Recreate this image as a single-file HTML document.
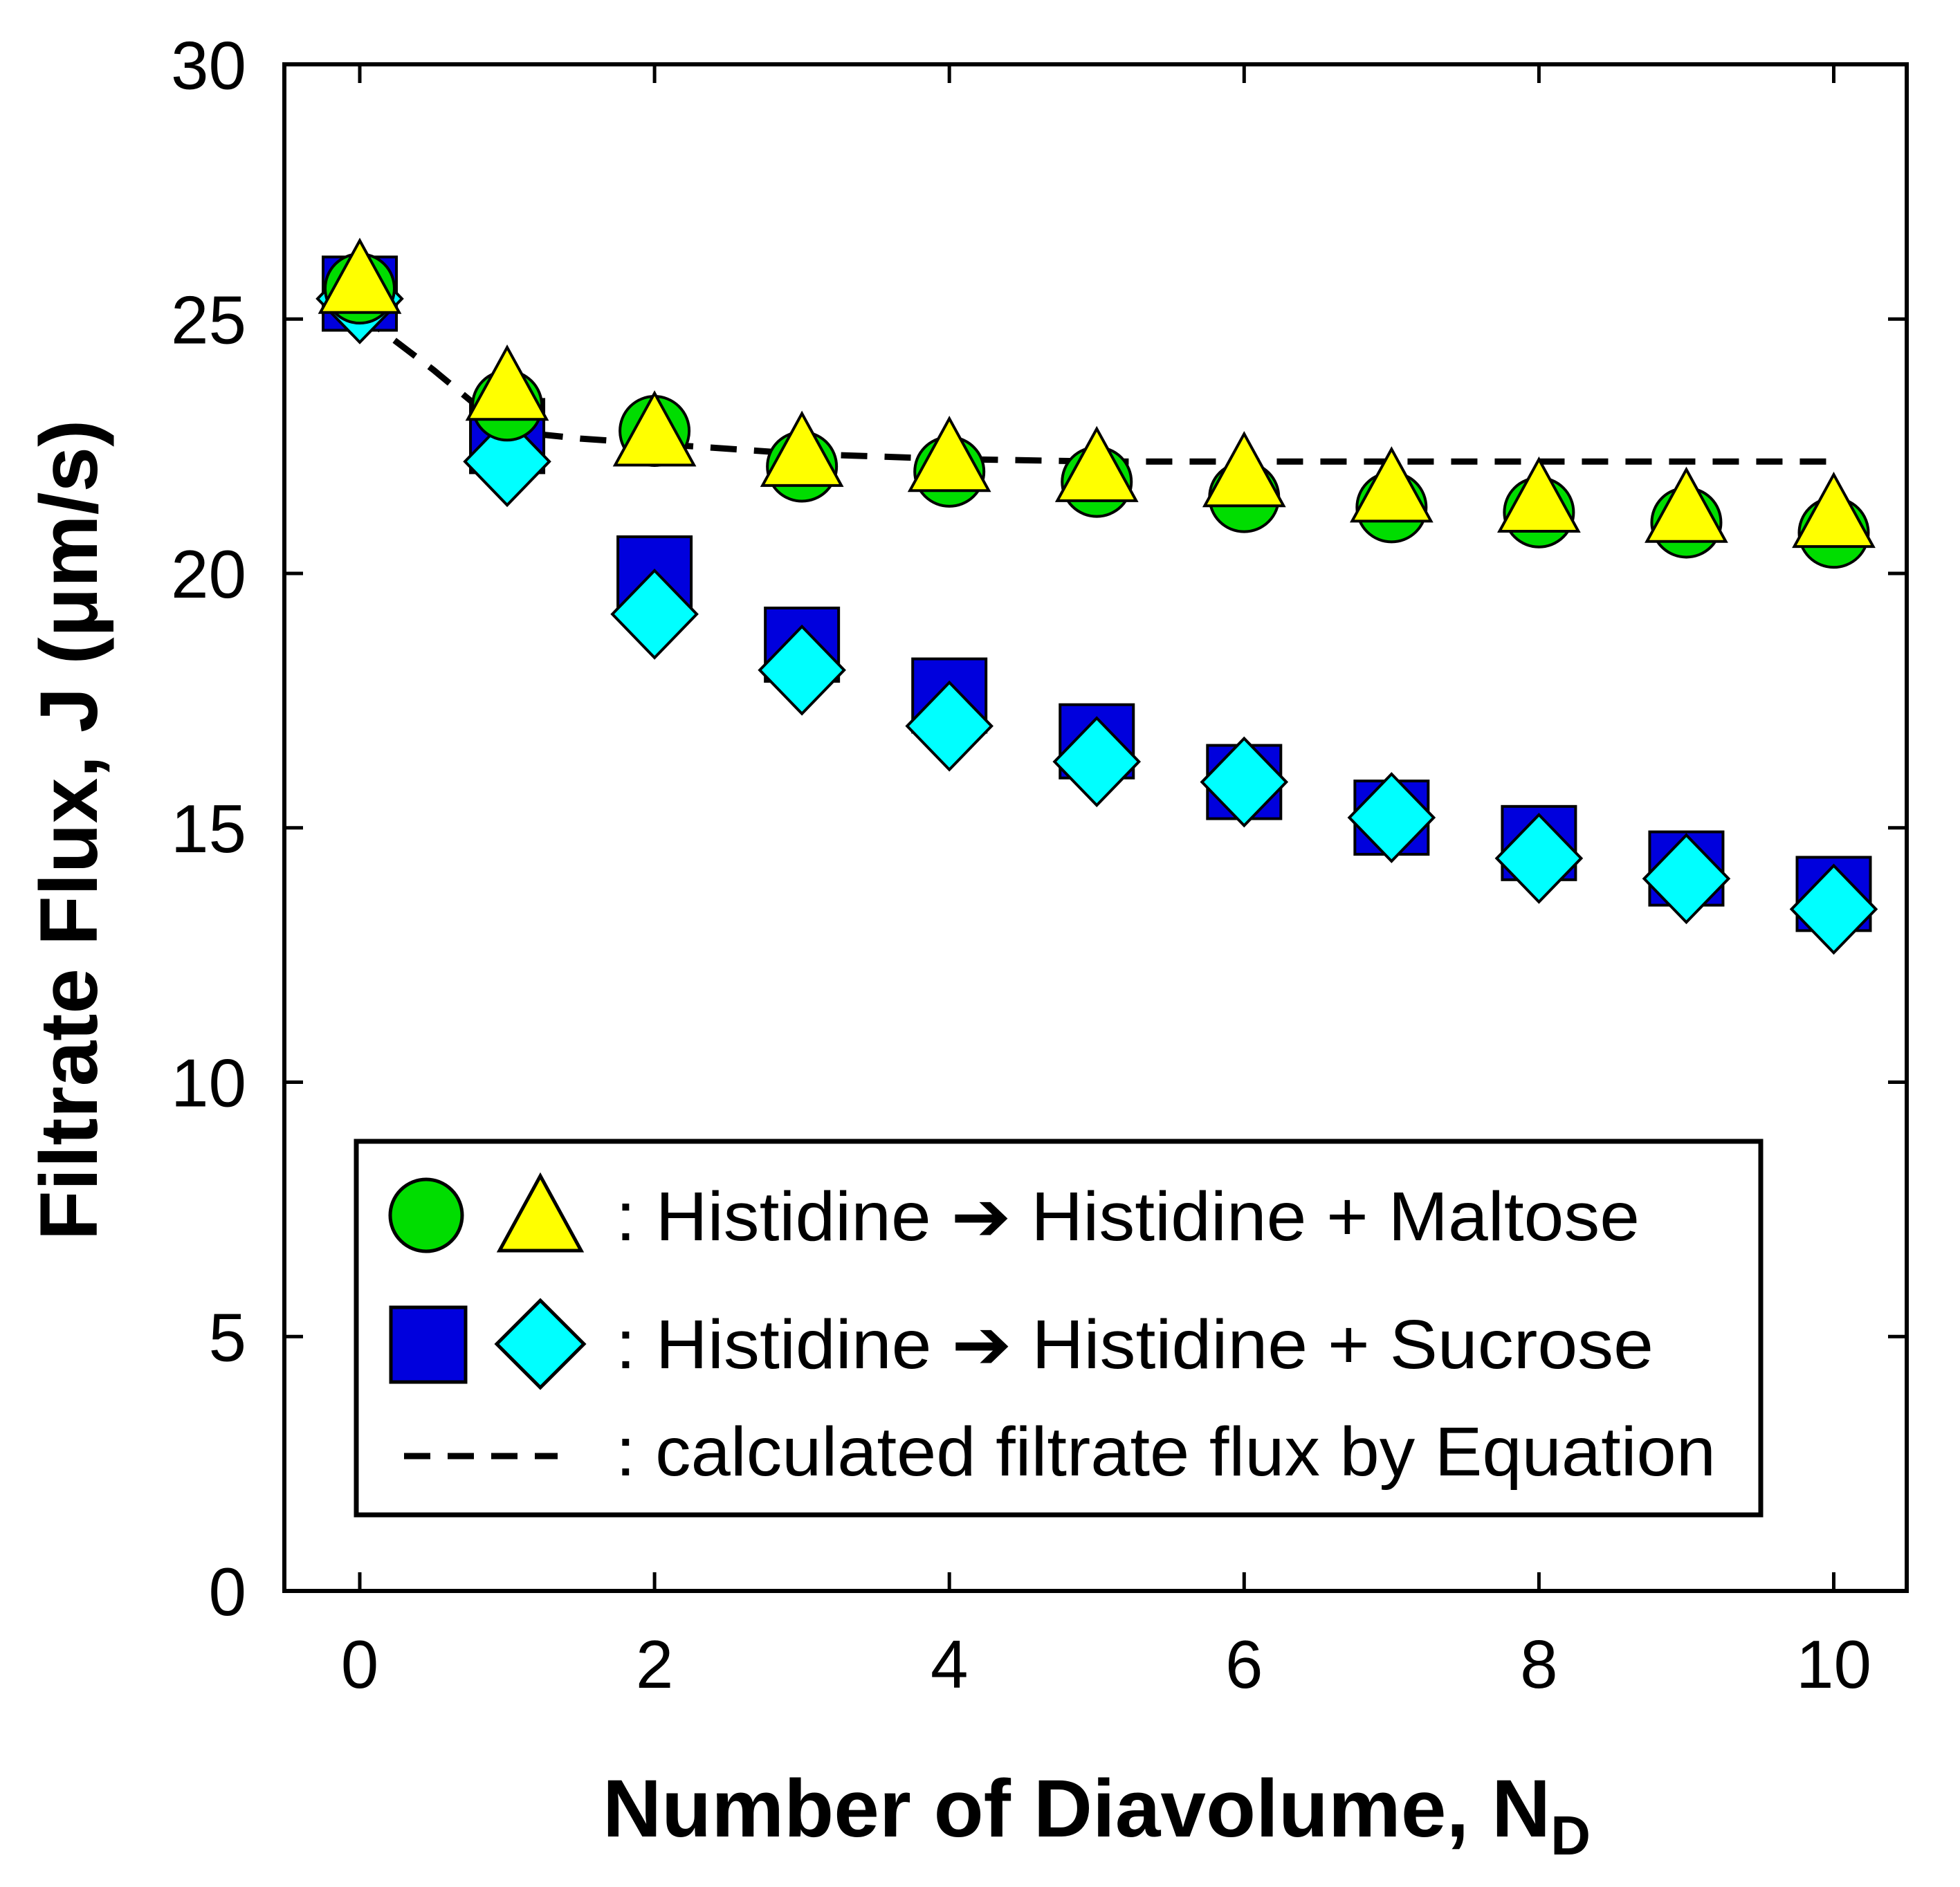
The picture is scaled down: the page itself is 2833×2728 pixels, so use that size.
<!DOCTYPE html>
<html><head><meta charset="utf-8"><style>
html,body{margin:0;padding:0;background:#fff;}
svg{display:block;font-family:"Liberation Sans",Arial,sans-serif;}
</style></head><body>
<svg id="chart" width="2833" height="2728" viewBox="0 0 2833 2728">
<g id="marks"></g>
<rect x="411" y="93" width="2345" height="2207" fill="none" stroke="#000" stroke-width="6"/>
<g id="ticks"></g>
<text x="1585" y="2655" font-size="118" font-weight="bold" text-anchor="middle">Number of Diavolume, N<tspan font-size="80" dy="26">D</tspan></text>
<text transform="translate(140,1200) rotate(-90)" font-size="118" font-weight="bold" text-anchor="middle">Filtrate Flux, J (μm/s)</text>
<g>
<rect x="515" y="1650" width="2030" height="540" fill="#fff" stroke="#000" stroke-width="7"/>
<circle cx="616" cy="1757" r="52" fill="#00dd00" stroke="#000" stroke-width="5"/>
<polygon points="781,1700 840,1808 722,1808" fill="#ffff00" stroke="#000" stroke-width="5"/>
<text x="890" y="1793" font-size="100" textLength="1480" lengthAdjust="spacingAndGlyphs">: Histidine ➔ Histidine + Maltose</text>
<rect x="565" y="1890" width="108" height="108" fill="#0000dd" stroke="#000" stroke-width="5"/>
<polygon points="781,1880 844,1943 781,2006 718,1943" fill="#00ffff" stroke="#000" stroke-width="5"/>
<text x="890" y="1978" font-size="100" textLength="1500" lengthAdjust="spacingAndGlyphs">: Histidine ➔ Histidine + Sucrose</text>
<line x1="584" y1="2105" x2="806" y2="2105" stroke="#000" stroke-width="9" stroke-dasharray="38,25"/>
<text x="890" y="2133" font-size="100" textLength="1590" lengthAdjust="spacingAndGlyphs">: calculated filtrate flux by Equation</text>
</g>
</svg>
<script>
const xVals=[0,1,2,3,4,5,6,7,8,9,10];
const circleVals=[25.6,23.3,22.8,22.1,22.0,21.8,21.5,21.3,21.2,21.0,20.8];
const triangleVals=[25.7,23.6,22.7,22.3,22.2,22.0,21.9,21.6,21.4,21.2,21.1];
const squareVals=[25.5,22.7,20.0,18.6,17.6,16.7,15.9,15.2,14.7,14.2,13.7];
const diamondVals=[25.4,22.2,19.2,18.1,17.0,16.3,15.9,15.2,14.4,14.0,13.4];
const lineX=[0,0.5,1,1.5,2,3,4,5,6,7,8,9,10];
const lineVals=[25.1,24.0,22.8,22.65,22.55,22.35,22.25,22.2,22.2,22.2,22.2,22.2,22.2];
const xTicks=[0,2,4,6,8,10];
const yTicks=[0,5,10,15,20,25,30];
const NS="http://www.w3.org/2000/svg";
const X=v=>520+v*213.05, Y=v=>2300-v*73.55;
const marks=document.getElementById('marks'), tk=document.getElementById('ticks');
function mk(tag,attrs,parent){const e=document.createElementNS(NS,tag);for(const k in attrs)e.setAttribute(k,attrs[k]);parent.appendChild(e);return e;}
let d='';lineX.forEach((x,i)=>{d+=(i?'L':'M')+X(x)+','+Y(lineVals[i]);});
const ln=mk('path',{d:d,fill:'none',stroke:'#000','stroke-width':9,'stroke-dasharray':'38,25'},marks);


xVals.forEach((x,i)=>{
 const cx=X(x);
 let y=Y(squareVals[i]);
 const s=mk('rect',{x:cx-53,y:y-53,width:106,height:106,fill:'#0000dd',stroke:'#000','stroke-width':4},marks);
 
 
 y=Y(diamondVals[i]);
 const dm=mk('polygon',{points:`${cx},${y-63} ${cx+61},${y} ${cx},${y+63} ${cx-61},${y}`,fill:'#00ffff',stroke:'#000','stroke-width':4},marks);
 
 
 y=Y(circleVals[i]);
 const c=mk('circle',{cx:cx,cy:y,r:50,fill:'#00dd00',stroke:'#000','stroke-width':4},marks);
 
 
 y=Y(triangleVals[i]);
 const t=mk('polygon',{points:`${cx},${y-62} ${cx+57},${y+42} ${cx-57},${y+42}`,fill:'#ffff00',stroke:'#000','stroke-width':4},marks);
 
 
});
xTicks.forEach(v=>{
 const x=X(v);
 const a=mk('line',{x1:x,y1:2300,x2:x,y2:2273,stroke:'#000','stroke-width':5},tk);
 
 
 const b=mk('line',{x1:x,y1:93,x2:x,y2:120,stroke:'#000','stroke-width':5},tk);
 
 
 const t=mk('text',{x:x,y:2440,'font-size':98,'text-anchor':'middle'},tk);t.textContent=v;
 
 
});
yTicks.forEach(v=>{
 const y=Y(v);
 const a=mk('line',{x1:411,y1:y,x2:438,y2:y,stroke:'#000','stroke-width':5},tk);
 
 
 const b=mk('line',{x1:2756,y1:y,x2:2729,y2:y,stroke:'#000','stroke-width':5},tk);
 
 
 const t=mk('text',{x:356,y:y+35,'font-size':98,'text-anchor':'end'},tk);t.textContent=v;
 
 
});
</script>
</body></html>
